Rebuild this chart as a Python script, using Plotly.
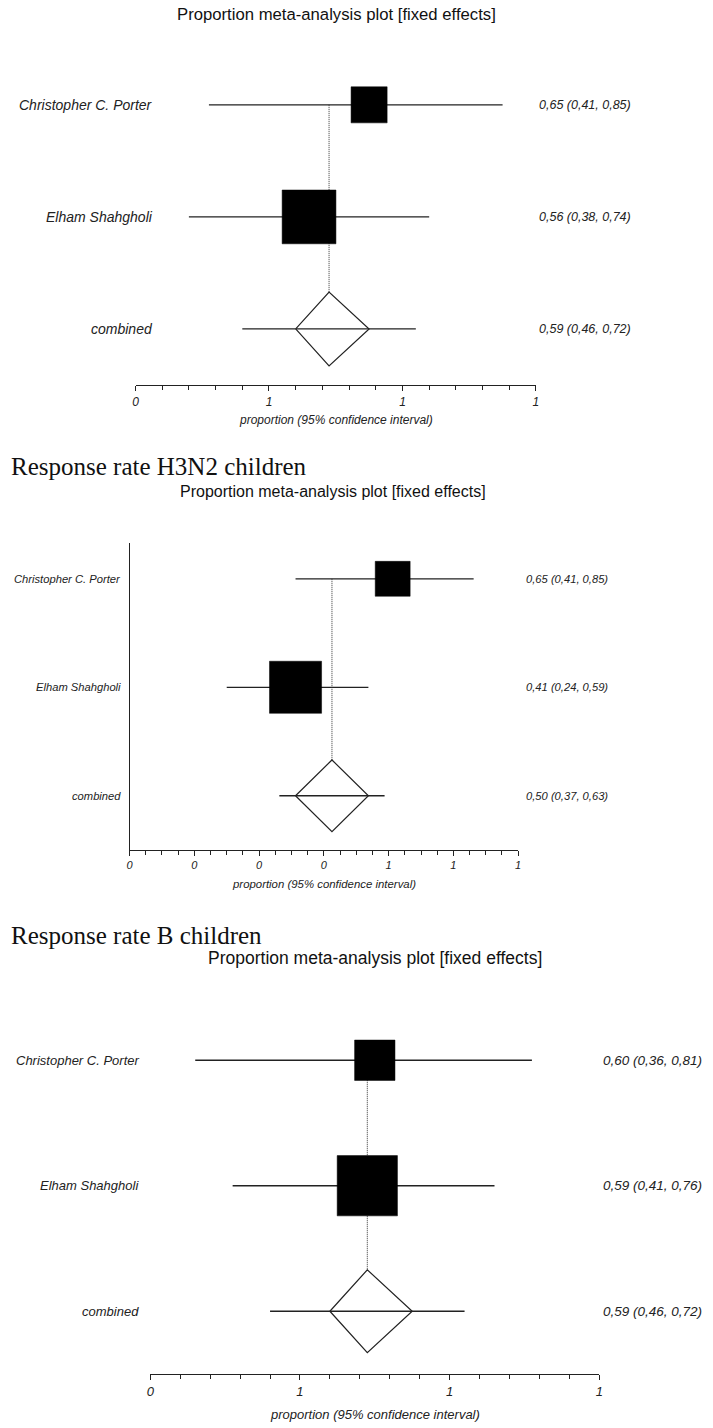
import plotly.graph_objects as go
import math

W, H = 713, 1428

# ---------------- data ----------------
studies = ["Christopher C. Porter", "Elham Shahgholi"]
pooled_label = "combined"
weights = [31, 69]  # relative study weights (%), box area proportional

# panel 1 (top section)
est1 = [0.65, 0.56]
lo1 = [0.41, 0.38]
hi1 = [0.85, 0.74]
pooled1 = [0.59, 0.46, 0.72]
diamond1 = [0.54, 0.65]
ticks1 = [0.3, 0.5, 0.7, 0.9]

# panel 2 (H3N2 children)
est2 = [0.65, 0.41]
lo2 = [0.41, 0.24]
hi2 = [0.85, 0.59]
pooled2 = [0.50, 0.37, 0.63]
diamond2 = [0.41, 0.59]
ticks2 = [0.0, 0.16, 0.32, 0.48, 0.64, 0.80, 0.96]

# panel 3 (B children)
est3 = [0.60, 0.59]
lo3 = [0.36, 0.41]
hi3 = [0.81, 0.76]
pooled3 = [0.59, 0.46, 0.72]
diamond3 = [0.54, 0.65]
ticks3 = [0.3, 0.5, 0.7, 0.9]

section_titles = ["", "Response rate H3N2 children", "Response rate B children"]
plot_title = "Proportion meta-analysis plot [fixed effects]"
x_title = "proportion (95% confidence interval)"

# ---------------- layout config (pixels) ----------------
panels = [
    dict(est=est1, lo=lo1, hi=hi1, pooled=pooled1, diamond=diamond1, ticks=ticks1,
         x0=133, x1=538, ytop=60, ybot=385, ytop_row=0.6, yline=False,
         title_y=15, title_x=336, title_size=16.7,
         lab_right=153, lab_size=14, val_left=539, val_size=12.5, tickfs=12,
         xt_y=420, xt_size=12, sec_y=None),
    dict(est=est2, lo=lo2, hi=hi2, pooled=pooled2, diamond=diamond2, ticks=ticks2,
         x0=127, x1=520, ytop=543, ybot=850, ytop_row=0.67, yline=True,
         title_y=491, title_x=333, title_size=16,
         lab_right=120, lab_size=11.2, val_left=526, val_size=11.2, tickfs=11,
         xt_y=884, xt_size=11.4, sec_y=467),
    dict(est=est3, lo=lo3, hi=hi3, pooled=pooled3, diamond=diamond3, ticks=ticks3,
         x0=148, x1=602, ytop=1000, ybot=1374, ytop_row=0.52, yline=False,
         title_y=958, title_x=375, title_size=17.5,
         lab_right=139, lab_size=13, val_left=604, val_size=13.5, tickfs=13,
         xt_y=1414, xt_size=13, sec_y=935),
]

LINE = "#222222"
FONT = "Liberation Sans, Arial, sans-serif"
fig = go.Figure()
annotations = []


def fmt(v):
    return f"{v:.2f}".replace(".", ",")


for i, p in enumerate(panels):
    n = i + 1
    xa = "x" if n == 1 else f"x{n}"
    ya = "y" if n == 1 else f"y{n}"
    rows = list(range(1, len(studies) + 1))
    prow = len(studies) + 1
    ybot_row = 3.5
    ppr = (p["ybot"] - p["ytop"]) / (ybot_row - p["ytop_row"])  # px per row
    dh = 0.33  # diamond half-height (rows)

    # CI lines for studies
    for r, l, h in zip(rows, p["lo"], p["hi"]):
        fig.add_trace(go.Scatter(x=[l, h], y=[r, r], mode="lines", xaxis=xa, yaxis=ya,
                                 line=dict(color=LINE, width=1.3), hoverinfo="skip"))
    # dotted line at pooled estimate
    fig.add_trace(go.Scatter(x=[p["pooled"][0], p["pooled"][0]], y=[1, prow - dh],
                             mode="lines", xaxis=xa, yaxis=ya,
                             line=dict(color="#333333", width=1, dash="1px,1px"), hoverinfo="skip"))
    # boxes
    sizes = [0.0578 * math.sqrt(w) * ppr for w in weights]
    fig.add_trace(go.Scatter(x=p["est"], y=rows, mode="markers", xaxis=xa, yaxis=ya,
                             opacity=1,
                             marker=dict(symbol="square", size=sizes, color="#000000", opacity=1,
                                         line=dict(width=0.5, color="#000000")),
                             hoverinfo="skip"))
    # diamond
    pe = p["pooled"][0]
    dl, dr = p["diamond"]
    fig.add_trace(go.Scatter(x=[dl, pe, dr, pe, dl], y=[prow, prow - dh, prow, prow + dh, prow],
                             mode="lines", fill="toself", fillcolor="white", xaxis=xa, yaxis=ya,
                             line=dict(color=LINE, width=1.2), hoverinfo="skip"))
    # pooled CI line
    fig.add_trace(go.Scatter(x=[p["pooled"][1], p["pooled"][2]], y=[prow, prow], mode="lines",
                             xaxis=xa, yaxis=ya, line=dict(color=LINE, width=1.3), hoverinfo="skip"))

    # axes
    xkey = "xaxis" if n == 1 else f"xaxis{n}"
    ykey = "yaxis" if n == 1 else f"yaxis{n}"
    t = p["ticks"]
    fig.update_layout(**{
        xkey: dict(domain=[p["x0"] / W, p["x1"] / W], range=[t[0], t[-1]], anchor=ya,
                   showgrid=False, zeroline=False, showline=True, linecolor=LINE, linewidth=1.3,
                   ticks="outside", ticklen=5, tickwidth=1.2, tickcolor=LINE,
                   tickmode="array", tickvals=t, ticktext=[str(int(v + 0.5)) for v in t],
                   tickfont=dict(family=FONT, size=p["tickfs"], color="#222", style="italic"),
                   minor=dict(ticks="outside", ticklen=4, tickwidth=1.2, tickcolor=LINE,
                              tickmode="linear", tick0=t[0], dtick=0.04, showgrid=False),
                   fixedrange=True),
        ykey: dict(domain=[1 - p["ybot"] / H, 1 - p["ytop"] / H], range=[ybot_row, p["ytop_row"]],
                   anchor=xa, showgrid=False, zeroline=False, showticklabels=False,
                   showline=p["yline"], linecolor=LINE, linewidth=1.3, ticks="",
                   fixedrange=True),
    })

    # row labels and values
    labels = studies + [pooled_label]
    ests = p["est"] + [p["pooled"][0]]
    los = p["lo"] + [p["pooled"][1]]
    his = p["hi"] + [p["pooled"][2]]
    for r, lab, e, l, h in zip(rows + [prow], labels, ests, los, his):
        annotations.append(dict(text=lab, xref="paper", x=p["lab_right"] / W, xanchor="right",
                                yref=ya, y=r, yanchor="middle", showarrow=False,
                                font=dict(family=FONT, size=p["lab_size"], color="#222",
                                          style="italic")))
        annotations.append(dict(text=f"{fmt(e)} ({fmt(l)}, {fmt(h)})", xref="paper",
                                x=p["val_left"] / W, xanchor="left",
                                yref=ya, y=r, yanchor="middle", showarrow=False,
                                font=dict(family=FONT, size=p["val_size"], color="#222",
                                          style="italic")))
    # title
    annotations.append(dict(text=plot_title, xref="paper", x=p["title_x"] / W, xanchor="center",
                            yref="paper", y=1 - p["title_y"] / H, yanchor="middle", showarrow=False,
                            font=dict(family=FONT, size=p["title_size"], color="#111")))
    # x axis title
    annotations.append(dict(text=x_title, xref="paper", x=(p["x0"] + p["x1"]) / 2 / W,
                            xanchor="center", yref="paper", y=1 - p["xt_y"] / H, yanchor="middle",
                            showarrow=False,
                            font=dict(family=FONT, size=p["xt_size"], color="#222", style="italic")))
    # section heading
    if p["sec_y"] is not None:
        annotations.append(dict(text=section_titles[i], xref="paper", x=5 / W, xanchor="left",
                                yref="paper", y=1 - p["sec_y"] / H, yanchor="middle", showarrow=False,
                                font=dict(family="Liberation Serif, Times New Roman, serif",
                                          size=25, color="#111")))

fig.update_layout(width=W, height=H, margin=dict(l=0, r=0, t=0, b=0),
                  paper_bgcolor="white", plot_bgcolor="white", showlegend=False,
                  annotations=annotations)

fig.write_html("out.html", config={"displayModeBar": False},
               post_script="document.body.style.margin='0';document.body.style.padding='0';")
